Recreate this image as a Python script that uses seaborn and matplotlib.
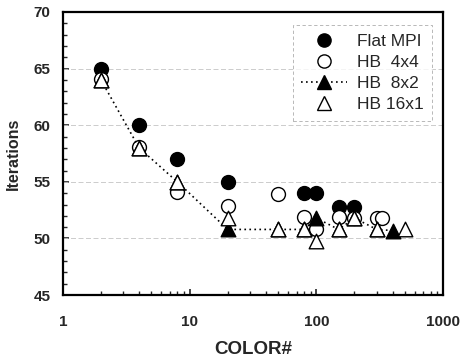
import matplotlib
matplotlib.use("Agg")
import matplotlib.pyplot as plt
import seaborn as sns
import pandas as pd
from matplotlib.lines import Line2D
from matplotlib.ticker import LogLocator, MultipleLocator, FixedLocator

sns.set_style("ticks")
plt.rcParams['font.family'] = ['Liberation Sans', 'DejaVu Sans']

flat_x = [2, 4, 8, 20, 80, 100, 150, 200]
flat_y = [65, 60, 57, 55, 54, 54, 52.8, 52.8]

hb44_x = [2, 4, 8, 20, 50, 80, 100, 150, 200, 300, 330]
hb44_y = [64.1, 58.1, 54.1, 52.9, 53.9, 51.9, 50.8, 51.9, 51.8, 51.8, 51.8]

hb82_x = [2, 4, 8, 20, 50, 80, 100, 150, 200, 300, 400]
hb82_y = [64, 58, 55, 50.8, 50.8, 50.8, 51.8, 50.8, 51.8, 50.8, 50.7]

hb161_x = [2, 4, 8, 20, 50, 80, 100, 150, 200, 300, 500]
hb161_y = [64, 58, 55, 51.8, 50.8, 50.8, 49.8, 50.8, 51.8, 50.8, 50.8]

labels = ["Flat MPI", "HB  4x4", "HB  8x2", "HB 16x1"]

fig = plt.figure(figsize=(4.62, 3.63), dpi=100)
ax = fig.add_axes([0.136, 0.187, 0.823, 0.780])

ms = 100
ax.set_xscale("log")

sns.scatterplot(x=flat_x, y=flat_y, ax=ax, marker="o", s=ms, color="black",
                edgecolor="black", linewidth=1.0, zorder=3, legend=False)
sns.scatterplot(x=hb44_x, y=hb44_y, ax=ax, marker="o", s=ms, color="white",
                edgecolor="black", linewidth=1.0, zorder=4, legend=False)
sns.lineplot(x=hb82_x, y=hb82_y, ax=ax, color="black", linestyle=(0, (1, 2)),
             linewidth=1.2, zorder=5, legend=False, estimator=None, sort=False)
sns.scatterplot(x=hb82_x, y=hb82_y, ax=ax, marker="^", s=ms * 1.1, color="black",
                edgecolor="black", linewidth=1.0, zorder=6, legend=False)
sns.scatterplot(x=hb161_x, y=hb161_y, ax=ax, marker="^", s=ms * 1.1, color="white",
                edgecolor="black", linewidth=1.0, zorder=7, legend=False)

ax.set_xlim(1, 1000)
ax.set_ylim(45, 70)
ax.yaxis.set_major_locator(MultipleLocator(5))
ax.yaxis.set_minor_locator(MultipleLocator(1))
ax.xaxis.set_major_locator(FixedLocator([1, 10, 100, 1000]))
ax.xaxis.set_minor_locator(LogLocator(base=10, subs=range(2, 10)))
ax.set_xticklabels(["1", "10", "100", "1000"])

for g in [50, 55, 60, 65]:
    ax.axhline(g, color="#c4c4c4", linestyle=(0, (6, 3)), linewidth=0.6, zorder=1)

ax.tick_params(axis="both", which="both", direction="in", top=False, right=False)
ax.tick_params(axis="both", which="major", length=4, width=1.2, labelsize=11)
ax.tick_params(axis="x", which="major", pad=14)
ax.tick_params(axis="y", which="major", pad=9)
ax.tick_params(axis="both", which="minor", length=3, width=1.0)
for lab in ax.get_xticklabels() + ax.get_yticklabels():
    lab.set_fontweight("bold")
for sp in ax.spines.values():
    sp.set_linewidth(1.6)
    sp.set_visible(True)
    sp.set_color("black")

ax.set_xlabel("COLOR#", fontsize=13.5, fontweight="bold", labelpad=9)
ax.set_ylabel("Iterations", fontsize=11.5, fontweight="bold", labelpad=9)

handles = [
    Line2D([], [], marker="o", color="black", linestyle="none", markersize=9.5,
           markerfacecolor="black", markeredgecolor="black"),
    Line2D([], [], marker="o", color="black", linestyle="none", markersize=9.5,
           markerfacecolor="white", markeredgecolor="black"),
    Line2D([], [], marker="^", color="black", linestyle=(0, (1, 2)), linewidth=1.2,
           markersize=9.5, markerfacecolor="black", markeredgecolor="black"),
    Line2D([], [], marker="^", color="black", linestyle="none", markersize=9.5,
           markerfacecolor="white", markeredgecolor="black"),
]
leg = ax.legend(handles, labels, loc="upper right", bbox_to_anchor=(0.995, 0.985),
                frameon=True, fancybox=False, fontsize=12.5, handlelength=2.6,
                labelspacing=0.35, borderpad=0.5, handletextpad=0.6)
leg.get_frame().set_edgecolor("#999999")
leg.get_frame().set_linewidth(0.6)
leg.get_frame().set_linestyle((0, (4, 3)))

fig.savefig("out.png", dpi=100)
